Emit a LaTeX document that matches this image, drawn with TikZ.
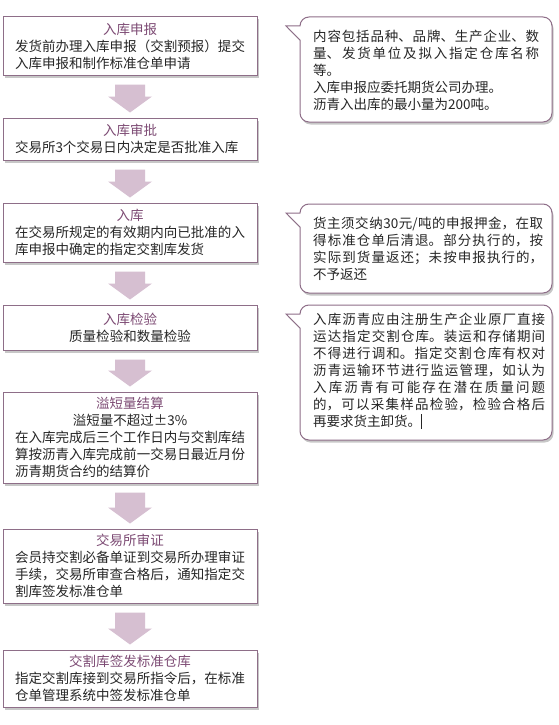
\documentclass[tikz,border=0pt]{standalone}
\usepackage{fontspec}
\setmainfont{Noto Sans CJK SC}
\usetikzlibrary{calc,shadows}
\XeTeXlinebreaklocale "zh"
\XeTeXlinebreakskip=0pt plus 3pt
\tolerance=10000 \hbadness=10000
\definecolor{boxc}{HTML}{8E6E88}
\definecolor{titlec}{HTML}{7D4B74}
\definecolor{arrowc}{HTML}{D6BFD1}
\definecolor{txtc}{HTML}{262626}
\newcommand\cofont{\fontsize{13.5}{17}\selectfont}
\newcommand\ctrline[1]{\hspace*{\fill}#1\hspace*{\fill}\par}
\newcommand\ttl[1]{\ctrline{\textcolor{titlec}{#1}}}
\newcommand\blockarr[2]{\fill[arrowc] ($(#1.south)+(-15,-9)$) -- ($(#1.south)+(15,-9)$) -- ($(#2.north)+(15,21)$) -- ($(#2.north)+(22,21)$) -- ($(#2.north)+(0,5)$) -- ($(#2.north)+(-22,21)$) -- ($(#2.north)+(-15,21)$) -- cycle;}
\newcommand\callbox[2]{\draw[callout] (286,{-(#1+9)}) -- (300,{-(#1+9)}) arc[start angle=180,end angle=90,radius=9] -- (543,{-#1}) arc[start angle=90,end angle=0,radius=9] -- (552,{-(#2-9)}) arc[start angle=0,end angle=-90,radius=9] -- (309,{-#2}) arc[start angle=-90,end angle=-180,radius=9] -- (300,{-(#1+23)}) -- cycle;}
\tikzset{
  shd/.style={drop shadow={shadow xshift=1.5pt,shadow yshift=-2.5pt,fill=black,opacity=0.22}},
  flowbox/.style={draw=boxc,line width=1pt,fill=white,shd,minimum width=254pt,text width=230pt,inner xsep=12pt,inner ysep=4pt,align=justify,font=\cofont,text=txtc},
  callout/.style={draw=boxc,line width=1pt,fill=white,shd},
  calltext/.style={inner sep=0pt,anchor=west,align=justify,font=\cofont,text=txtc}
}
\begin{document}
\begin{tikzpicture}[x=1pt,y=1pt]
\useasboundingbox (0,0) rectangle (559,-725);
\fill[white] (0,0) rectangle (559,-725);
\node[flowbox,minimum height=58pt] (b1) at (130,-46) {\ttl{入库申报}发货前办理入库申报（交割预报）提交\linebreak 入库申报和制作标准仓单申请};
\node[flowbox,minimum height=42pt] (b2) at (130,-139) {\ttl{入库审批}交易所3个交易日内决定是否批准入库};
\node[flowbox,minimum height=59pt] (b3) at (130,-232.5) {\ttl{入库}在交易所规定的有效期内向已批准的入\linebreak 库申报中确定的指定交割库发货};
\node[flowbox,minimum height=45pt] (b4) at (130,-327.5) {\ttl{入库检验}\ctrline{质量检验和数量检验}};
\node[flowbox,minimum height=91pt] (b5) at (130,-437.5) {\ttl{溢短量结算}\ctrline{溢短量不超过±3\%}在入库完成后三个工作日内与交割库结\linebreak 算按沥青入库完成前一交易日最近月份\linebreak 沥青期货合约的结算价};
\node[flowbox,minimum height=74pt] (b6) at (130,-566) {\ttl{交易所审证}会员持交割必备单证到交易所办理审证\linebreak 手续，交易所审查合格后，通知指定交\linebreak 割库签发标准仓单};
\node[flowbox,minimum height=57pt] (b7) at (130,-678.5) {\ttl{交割库签发标准仓库}指定交割库接到交易所指令后，在标准\linebreak 仓单管理系统中签发标准仓单};
\blockarr{b1}{b2}
\blockarr{b2}{b3}
\blockarr{b3}{b4}
\blockarr{b4}{b5}
\blockarr{b5}{b6}
\blockarr{b6}{b7}
\callbox{17}{122}
\callbox{204}{293}
\callbox{305}{440}
\node[calltext,text width=226pt] (c1) at (313,-70) {内容包括品种、品牌、生产企业、数\linebreak 量、发货单位及拟入指定仓库名称\linebreak 等。\\入库申报应委托期货公司办理。\\沥青入出库的最小量为200吨。};
\node[calltext,text width=230pt] (c2) at (313,-249) {货主须交纳30元/吨的申报押金，在取\linebreak 得标准仓单后清退。部分执行的，按\linebreak 实际到货量返还；未按申报执行的，\linebreak 不予返还};
\node[calltext,text width=232pt] (c3) at (313,-371) {入库沥青应由注册生产企业原厂直接\linebreak 运达指定交割仓库。装运和存储期间\linebreak 不得进行调和。指定交割仓库有权对\linebreak 沥青运输环节进行监运管理，如认为\linebreak 入库沥青有可能存在潜在质量问题\linebreak 的，可以采集样品检验，检验合格后\linebreak 再要求货主卸货。\rule[-2.5pt]{0.7pt}{15pt}};
\end{tikzpicture}
\end{document}
